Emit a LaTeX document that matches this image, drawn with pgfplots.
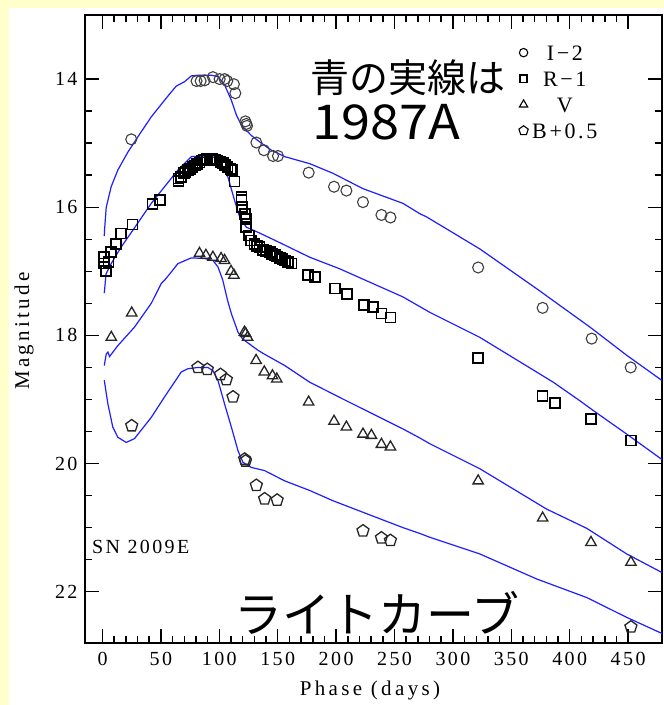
\documentclass[border=0pt]{standalone}
\usepackage{fontspec}
\setmainfont{Liberation Serif}
\newfontfamily\hersh[LetterSpace=12]{Liberation Serif}
\newfontfamily\hershwide[LetterSpace=16]{Liberation Serif}
\newfontfamily\jp{Noto Sans CJK JP}
\usepackage{pgfplots}
\pgfplotsset{compat=1.18}
\usetikzlibrary{plotmarks}
\definecolor{bgyellow}{RGB}{255,255,204}
\definecolor{modelblue}{RGB}{30,30,255}

\begin{document}
\begin{tikzpicture}[x=1pt,y=1pt]
\useasboundingbox (0,0) rectangle (664,705);
\fill[bgyellow] (0,0) rectangle (664,705);
\fill[white] (9,0) rectangle (664,697);
\begin{axis}[
  at={(85pt,62pt)}, anchor=south west,
  width=577pt, height=628pt, scale only axis,
  xmin=-15, xmax=479, ymin=13, ymax=22.8, y dir=reverse,
  xtick={0,50,...,450}, minor x tick num=4,
  ytick={14,16,18,20,22}, minor y tick num=3,
  axis line style={line width=1.8pt},
  major tick length=14pt, minor tick length=7pt,
  tick style={line width=1.5pt, black},
  tick label style={font=\hersh\fontsize{20}{24}\selectfont},
  /pgf/number format/assume math mode=true,
  xticklabel style={yshift=-6pt},
  yticklabel style={xshift=-4pt},
  legend style={at={(axis cs:356.5,13.47)}, anchor=north west,
    draw=none, fill=none, inner sep=0pt, outer sep=0pt,
    font=\hersh\fontsize{22}{24}\selectfont,
    nodes={inner sep=0pt, text height=15pt, text depth=0pt},
    row sep=11pt, column sep=4pt},
  legend cell align=center,
]
% ---- model lines (SN 1987A) ----
\addplot[modelblue, line width=1.2pt, no marks, forget plot] coordinates {
(1.5,16.45)(1.7,16.36)(3.2,16.0)(7.4,15.68)(13.1,15.42)(21.7,15.14)(30.3,14.9)(41.7,14.59)(53.1,14.33)(58,14.22)(63.1,14.11)(70.3,14.04)(76,13.95)(81.7,13.94)(93.1,13.94)(98.8,13.96)(104.5,14.09)(110.3,14.33)(114.6,14.56)(118.9,14.72)(127.4,14.88)(136,15.0)(144.6,15.11)(156,15.21)(177.4,15.32)(197.3,15.47)(223,15.71)(257.3,15.94)(271.6,16.10)(277.4,16.15)(323,16.65)(371.6,17.27)(417.3,17.87)(448.8,18.31)(478.7,18.70)};
\addplot[modelblue, line width=1.2pt, no marks, forget plot] coordinates {
(1.5,17.34)(3,17.04)(7.4,16.88)(16,16.62)(27.8,16.31)(41.7,15.94)(53.1,15.68)(64.5,15.42)(76,15.21)(87.4,15.2)(96,15.22)(101.7,15.32)(107.4,15.53)(113,15.89)(117.4,16.15)(123,16.31)(133,16.39)(144.6,16.49)(156,16.59)(177.4,16.78)(203,16.96)(257.3,17.40)(271.6,17.55)(280.2,17.64)(323,18.03)(385.9,18.73)(408.7,19.02)(420,19.17)(448.8,19.54)(480,19.95)};
\addplot[modelblue, line width=1.2pt, no marks, forget plot] coordinates {
(1.5,18.47)(3.2,18.29)(4.6,18.26)(6,18.33)(13.1,18.16)(27.4,17.87)(41.7,17.5)(50.3,17.19)(53.1,17.14)(58.9,17.01)(64.5,16.88)(76,16.79)(87.4,16.8)(94.5,16.83)(98.8,16.93)(103,17.14)(107,17.45)(110.3,17.66)(116,17.95)(120.2,18.06)(133,18.23)(137.4,18.28)(156,18.47)(177.4,18.73)(208.8,19.02)(257.3,19.46)(271.6,19.60)(280.2,19.69)(323,20.08)(380.2,20.71)(414.5,21.01)(448.8,21.41)(480,21.71)};
\addplot[modelblue, line width=1.2pt, no marks, forget plot] coordinates {
(1.5,18.70)(4.6,19.07)(8.8,19.43)(13.1,19.59)(20.3,19.67)(27.4,19.61)(41.7,19.28)(53.1,18.96)(64.5,18.65)(67.4,18.57)(73.1,18.52)(81.7,18.5)(90.2,18.5)(94.5,18.55)(98.8,18.70)(104.5,19.07)(110.3,19.43)(116,19.80)(120.2,19.98)(127.4,20.06)(138.8,20.11)(156,20.27)(177.4,20.42)(197.3,20.58)(223,20.76)(257.3,21.0)(271.6,21.09)(280.2,21.15)(323,21.41)(371.6,21.80)(414.5,22.09)(448.8,22.40)(480,22.66)};
% ---- SN 2009E data ----
\addplot[only marks, mark=o, mark size=5.5pt, mark options={draw=black!75, line width=1.1pt},
  legend image post style={mark size=4.2pt, mark options={line width=1.1pt}}] coordinates {
(24.6,14.94)(80.5,14.03)(84,14.03)(87.4,14.02)(94.5,13.97)(100.3,14.0)(104.5,14.0)(106.8,14.03)(112.5,14.08)(113.7,14.22)
(122.3,14.66)(123.1,14.70)(123.7,14.73)(131.7,14.99)(138.2,15.11)(146,15.2)(150.2,15.2)
(176.5,15.46)(198.2,15.68)(208.8,15.74)(223,15.92)(238.8,16.12)(246.5,16.16)
(321.6,16.94)(376.8,17.57)(418.8,18.05)(452.2,18.5)};
\addlegendentry{I−2}
\addplot[only marks, mark=square, mark size=5pt, mark options={draw=black, line width=1.7pt},
  legend image post style={mark size=3.6pt, mark options={line width=1.4pt}}] coordinates {
(1.5,16.78)(1.5,16.88)(3,17.0)(5,16.85)(7,16.7)(11.5,16.57)(15.7,16.41)(25.7,16.27)(42.7,15.95)(49,15.89)
(65,15.59)(65,15.55)(67,15.53)(70,15.47)(71,15.45)(73,15.42)(75,15.40)(77,15.37)(79,15.35)(81,15.32)(83,15.30)(85,15.27)(87,15.26)(89.5,15.25)(92,15.25)(94,15.25)(96,15.26)(98,15.27)(101,15.29)(103,15.31)(105,15.34)(107,15.37)(109.5,15.4)(111.1,15.42)(113.1,15.6)
(118.9,15.84)(118.9,15.89)(119.7,16.0)(121.7,16.1)(123.1,16.18)(123.1,16.31)(125.4,16.44)(127.4,16.52)(130.2,16.57)(132,16.6)(134.5,16.62)(137.4,16.67)(140,16.68)(143.1,16.7)(145,16.73)(147.4,16.75)(149.5,16.77)(151.7,16.79)(154,16.81)(156,16.83)(159,16.85)(161.7,16.88)
(175.9,17.06)(181.7,17.09)(198.8,17.27)(209.3,17.35)(223.7,17.52)(231.6,17.56)(238.8,17.66)(246.5,17.72)
(321.6,18.35)(376.8,18.94)(387.3,19.06)(418.2,19.30)(452.4,19.64)};
\addlegendentry{R−1}
\addplot[only marks, mark=triangle, mark size=6pt, mark options={draw=black!85, line width=1.3pt},
  legend image post style={mark size=4.8pt, mark options={line width=1.1pt}}] coordinates {
(7.5,18.03)(25,17.65)
(83,16.72)(88.5,16.75)(94.5,16.78)(101.5,16.8)(104.5,16.83)(110,17.0)(112.5,17.06)
(121.5,17.95)(122.5,17.97)(124.2,18.03)
(131.5,18.39)(138.5,18.57)(145.5,18.63)(149.2,18.68)
(176.5,19.04)(198.2,19.34)(208.8,19.43)(223,19.54)(230.2,19.56)(238.8,19.70)(246.5,19.74)
(321.6,20.27)(376.8,20.85)(418.2,21.23)(452.4,21.54)};
\addlegendentry{V}
\addplot[only marks, mark=pentagon, mark size=6.3pt, mark options={draw=black!85, line width=1.3pt},
  legend image post style={mark size=4.9pt, mark options={line width=1.1pt}}] coordinates {
(25,19.41)(81.7,18.5)(89.7,18.53)(101,18.61)(106,18.69)(111.7,18.96)(121.7,19.93)(122.4,19.96)
(131.7,20.34)(138.8,20.55)(149.5,20.57)(223,21.05)(238.8,21.16)(246.5,21.2)(452.4,22.55)};
\addlegendentry{B+0.5}
\end{axis}
\node[anchor=base west, font=\jp\fontsize{39}{44}\selectfont, inner sep=0pt] at (310,612) {青の実線は};
\node[anchor=base west, font=\jp\fontsize{48}{54}\selectfont, inner sep=0pt, xscale=1.09] at (312,565) {1987A};
\node[anchor=base west, font=\jp\fontsize{48}{54}\selectfont, inner sep=0pt] at (234,72) {ライトカーブ};
\node[anchor=west, font=\hersh\fontsize{20}{24}\selectfont, inner sep=0pt] at (92,158) {SN 2009E};
\node[rotate=90, font=\hershwide\fontsize{21}{24}\selectfont, inner sep=0pt] at (24,374) {Magnitude};
\node[font=\hershwide\fontsize{21}{24}\selectfont, inner sep=0pt] at (370,15) {Phase (days)};
\end{tikzpicture}
\end{document}
